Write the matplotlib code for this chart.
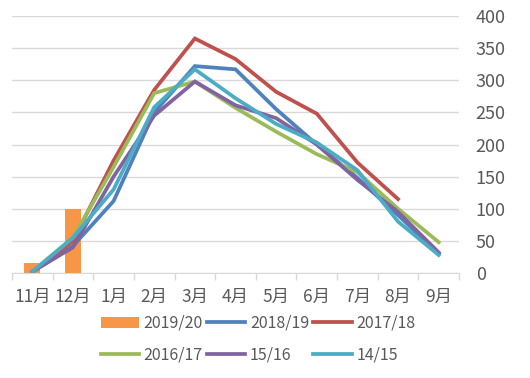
import matplotlib
matplotlib.use('Agg')
import matplotlib.pyplot as plt
import numpy as np

plt.rcParams['font.family'] = ['Noto Sans CJK SC', 'DejaVu Sans']
plt.rcParams['font.size'] = 10.5
plt.rcParams['text.color'] = '#595959'

months = ['11月', '12月', '1月', '2月', '3月', '4月', '5月', '6月', '7月', '8月', '9月']
bar_2019 = [15, 100]
s_2018 = [2, 42, 112, 250, 322, 317, 255, 200, 148, 90, 30]
s_2017 = [2, 50, 175, 285, 365, 333, 282, 248, 172, 115]
s_2016 = [2, 55, 165, 280, 298, 257, 220, 185, 157, 100, 48]
s_1516 = [2, 40, 150, 245, 298, 261, 241, 200, 145, 95, 32]
s_1415 = [2, 55, 130, 258, 317, 272, 232, 203, 160, 80, 28]

colors = {
    '2019/20': '#F79646',
    '2018/19': '#4F81BD',
    '2017/18': '#C0504D',
    '2016/17': '#9BBB59',
    '15/16': '#8064A2',
    '14/15': '#4BACC6',
}

fig = plt.figure(figsize=(5.3, 3.78), dpi=100)
ax = fig.add_axes([12 / 530, 1 - 273 / 378, (459 - 12) / 530, (273 - 16) / 378])

x = np.arange(len(months))
h_bar = ax.bar(x[:len(bar_2019)], bar_2019, width=0.4, color=colors['2019/20'],
               label='2019/20', zorder=2)

lines = {}
for name, vals in [('2018/19', s_2018), ('2017/18', s_2017), ('2016/17', s_2016),
                   ('15/16', s_1516), ('14/15', s_1415)]:
    ln, = ax.plot(x[:len(vals)], vals, color=colors[name], lw=2.7, label=name,
                  solid_joinstyle='miter', zorder=3)
    lines[name] = ln

ax.set_xlim(-0.5, len(months) - 0.5)
ax.set_ylim(0, 400)
ax.set_yticks(range(0, 401, 50))
ax.yaxis.tick_right()
ax.tick_params(axis='y', length=0, pad=12, labelsize=13, labelcolor='#595959')
ax.set_xticks(x)
ax.set_xticklabels(months)
ax.set_xticks(np.arange(-0.5, len(months)), minor=True)
ax.tick_params(axis='x', which='major', length=0, pad=11, labelsize=12.5, labelcolor='#595959')
ax.tick_params(axis='x', which='minor', length=5, color='#D9D9D9', width=1)
ax.grid(axis='y', color='#D9D9D9', lw=1, zorder=0)
ax.set_axisbelow(True)
for s in ['top', 'left', 'right']:
    ax.spines[s].set_visible(False)
ax.spines['bottom'].set_color('#D9D9D9')

handles = [h_bar, lines['2016/17'], lines['2018/19'], lines['15/16'],
           lines['2017/18'], lines['14/15']]
labels = [h.get_label() for h in handles]
fig.legend(handles, labels, ncol=3, loc='center', bbox_to_anchor=(258 / 530, 1 - 339 / 378),
           frameon=False, handlelength=2.4, handletextpad=0.3, columnspacing=0.25,
           labelspacing=0.9, fontsize=11.5)

fig.savefig('out.png', dpi=100)
